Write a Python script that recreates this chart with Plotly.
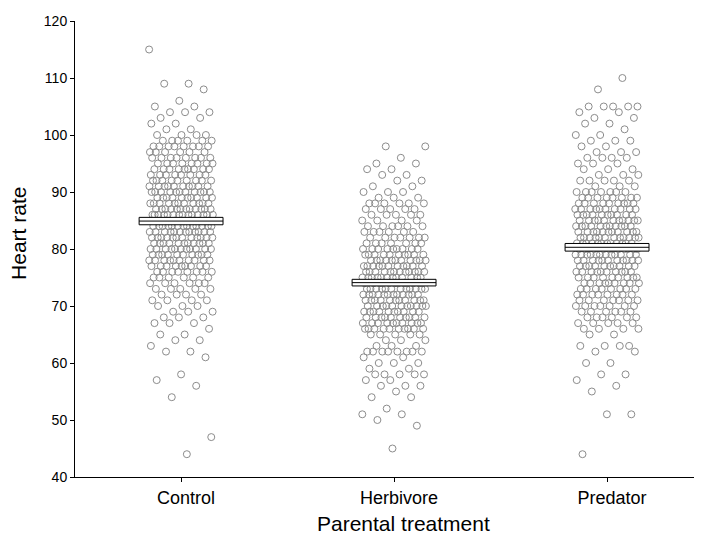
import numpy as np
import plotly.graph_objects as go

# ---- data ----
categories = ["Control", "Herbivore", "Predator"]

# heart-rate levels and number of points seen at each level
control_hr = [115, 109, 108, 106, 105, 104, 103, 102, 101, 100, 99, 98, 97, 96, 95, 94, 93, 92, 91, 90,
              89, 88, 87, 86, 85, 84, 83, 82, 81, 80, 79, 78, 77, 76, 75, 74, 73, 72, 71, 70,
              69, 68, 67, 66, 65, 64, 63, 62, 61, 58, 57, 56, 54, 47, 44]
control_n = [1, 2, 1, 1, 2, 3, 2, 2, 2, 4, 6, 8, 6, 8, 8, 9, 8, 9, 10, 11,
             10, 11, 12, 14, 13, 13, 12, 12, 11, 11, 10, 10, 9, 8, 6, 6, 5, 4, 4, 3,
             3, 3, 3, 1, 2, 2, 1, 2, 1, 1, 1, 1, 1, 1, 1]

herbivore_hr = [98, 96, 95, 94, 93, 92, 91, 90, 89, 88, 87, 86, 85, 84, 83, 82, 81, 80, 79, 78,
                77, 76, 75, 74, 73, 72, 71, 70, 69, 68, 67, 66, 65, 64, 63, 62, 61, 60, 59, 58,
                57, 56, 55, 54, 52, 51, 50, 49, 45]
herbivore_n = [2, 1, 2, 2, 2, 2, 2, 3, 3, 6, 5, 5, 4, 6, 6, 7, 7, 9, 10, 11,
               11, 12, 12, 12, 12, 12, 11, 11, 10, 10, 10, 10, 5, 3, 3, 8, 2, 3, 2, 5,
               2, 3, 1, 2, 1, 2, 1, 1, 1]

predator_hr = [110, 108, 105, 104, 103, 102, 101, 100, 99, 98, 97, 96, 95, 94, 93, 92, 91, 90, 89, 88,
               87, 86, 85, 84, 83, 82, 81, 80, 79, 78, 77, 76, 75, 74, 73, 72, 71, 70, 69, 68,
               67, 66, 65, 63, 62, 60, 58, 57, 56, 55, 51, 44]
predator_n = [1, 1, 5, 2, 2, 2, 1, 2, 3, 2, 3, 4, 3, 3, 3, 5, 3, 7, 8, 9,
              10, 10, 11, 11, 11, 12, 12, 12, 12, 11, 10, 10, 9, 9, 8, 8, 7, 7, 6, 6,
              5, 4, 2, 4, 2, 2, 2, 1, 1, 1, 2, 1]

# group mean and standard error (the small boxes)
means = [84.9, 74.1, 80.3]
sems = [0.65, 0.58, 0.67]

x_title = "Parental treatment"
y_title = "Heart rate"

# ---- styling / layout ----
JITTER = 0.15
BOX_HALF = 0.197
PT_COLOR = "#8c8c8c"
FONT = "Liberation Sans, Arial, sans-serif"

groups = [(control_hr, control_n), (herbivore_hr, herbivore_n), (predator_hr, predator_n)]

fig = go.Figure()
golden = 0.6180339887498949
for gi, (hr, n) in enumerate(groups):
    y = np.repeat(hr, n)
    k = np.arange(len(y))
    offs = ((k * golden + 0.37 * gi) % 1.0 - 0.5) * 2 * JITTER
    fig.add_trace(go.Scatter(
        x=gi + offs, y=y, mode="markers",
        marker=dict(symbol="circle-open", size=7, color=PT_COLOR, line=dict(width=1, color=PT_COLOR)),
        hoverinfo="y", showlegend=False, name=categories[gi]))

for gi, (m, s) in enumerate(zip(means, sems)):
    fig.add_trace(go.Scatter(
        x=[gi - BOX_HALF, gi + BOX_HALF, gi + BOX_HALF, gi - BOX_HALF, gi - BOX_HALF],
        y=[m - s, m - s, m + s, m + s, m - s],
        mode="lines", fill="toself", fillcolor="white",
        line=dict(color="black", width=1), showlegend=False, hoverinfo="skip"))
    fig.add_trace(go.Scatter(
        x=[gi - BOX_HALF, gi + BOX_HALF], y=[m, m], mode="lines",
        line=dict(color="black", width=1), showlegend=False, hoverinfo="skip"))

# page body adds an 8px offset, so the figure is slightly smaller than the window
fig.update_layout(
    width=694, height=527,
    margin=dict(l=67, r=4, t=13, b=58),
    paper_bgcolor="white", plot_bgcolor="white",
    font=dict(family=FONT, color="black", size=14),
    showlegend=False,
    annotations=[
        dict(text=x_title, xref="paper", yref="paper", x=0.528, y=0,
             xanchor="center", yanchor="middle", yshift=-46, showarrow=False,
             font=dict(size=21, family=FONT, color="black")),
        dict(text=y_title, xref="paper", yref="paper", x=0, y=0.533, textangle=-90,
             xanchor="center", yanchor="middle", xshift=-56, showarrow=False,
             font=dict(size=21, family=FONT, color="black")),
    ],
)
fig.update_xaxes(
    range=[-0.498, 2.427], tickmode="array", tickvals=[0, 1, 2], ticktext=categories,
    showgrid=False, zeroline=False, showline=True, linecolor="black", linewidth=1,
    ticks="outside", ticklen=4, tickcolor="black", ticklabelshift=5,
    tickfont=dict(size=18, family=FONT),
)
fig.update_yaxes(
    range=[40, 120], tickmode="linear", tick0=40, dtick=10,
    showgrid=False, zeroline=False, showline=True, linecolor="black", linewidth=1,
    ticks="outside", ticklen=4, tickcolor="black",
    tickfont=dict(size=14, family=FONT),
)

fig.write_html("out.html")
